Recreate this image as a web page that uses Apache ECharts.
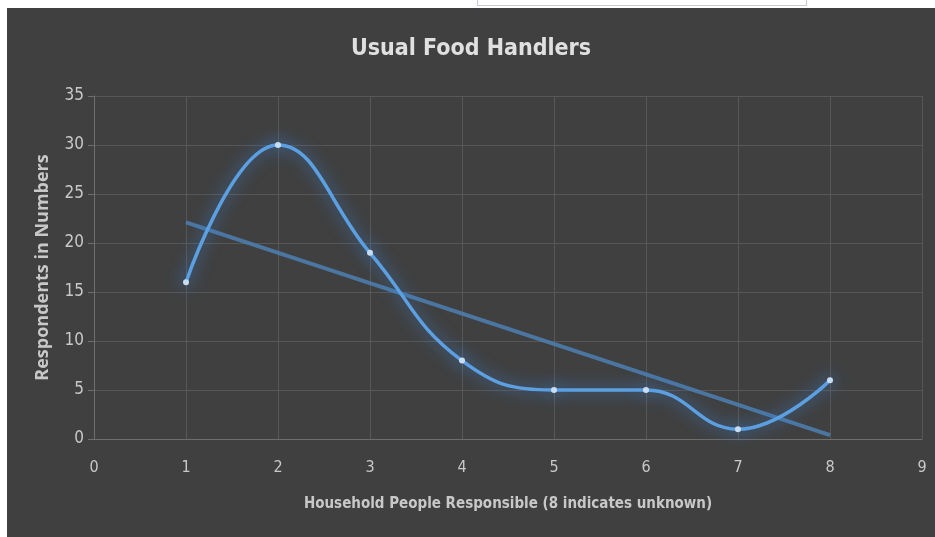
<!DOCTYPE html>
<html>
<head>
<meta charset="utf-8">
<script src="https://cdn.jsdelivr.net/npm/echarts@6/dist/echarts.min.js"></script>
<style>
  html, body { margin: 0; padding: 0; background: #ffffff; width: 935px; height: 537px; overflow: hidden; }
  #frame { position: absolute; left: 477px; top: -2px; width: 330px; height: 8px; border: 1px solid #c8c8d0; border-top: none; box-sizing: border-box; }
  #chart { position: absolute; left: 7px; top: 8px; width: 928px; height: 529px; }
</style>
</head>
<body>
<div id="frame"></div>
<div id="chart"></div>
<script>
// Household people responsible (8 = unknown) vs respondents
const people = [1, 2, 3, 4, 5, 6, 7, 8];
const respondents = [16, 30, 19, 8, 5, 5, 1, 6];
// linear trendline end points
const trendX = [1, 8];
const trendY = [22.1, 0.4];

const labelFont = "'DejaVu Sans Condensed', 'Liberation Sans Narrow', sans-serif";
const textColor = "#c8c8c8";

const chart = echarts.init(document.getElementById("chart"));
chart.setOption({
  backgroundColor: "#404040",
  animation: false,
  title: {
    text: "Usual Food Handlers",
    left: "center",
    top: 25,
    textStyle: { color: "#e0e0e0", fontFamily: labelFont, fontSize: 23, fontWeight: "bold" }
  },
  grid: { left: 87, right: 13, top: 88, bottom: 98 },
  xAxis: {
    type: "value",
    min: 0,
    max: 9,
    interval: 1,
    name: "Household People Responsible (8 indicates unknown)",
    nameLocation: "middle",
    nameGap: 58,
    nameTextStyle: { color: textColor, fontFamily: labelFont, fontSize: 15, fontWeight: "bold" },
    axisLine: { lineStyle: { color: "#6e6e6e" } },
    axisTick: { show: false },
    axisLabel: { color: textColor, fontFamily: labelFont, fontSize: 16, margin: 21 },
    splitLine: { lineStyle: { color: "#575757" } }
  },
  yAxis: {
    type: "value",
    min: 0,
    max: 35,
    interval: 5,
    name: "Respondents in Numbers",
    nameLocation: "middle",
    nameGap: 42,
    nameTextStyle: { color: textColor, fontFamily: "'Open Sans', sans-serif", fontSize: 18, fontWeight: "bold" },
    axisLine: { show: true, lineStyle: { color: "#6e6e6e" } },
    axisTick: { show: true, length: 6, lineStyle: { color: "#6e6e6e" } },
    axisLabel: { color: textColor, fontFamily: labelFont, fontSize: 17, margin: 10 },
    splitLine: { lineStyle: { color: "#575757" } }
  },
  series: [
    {
      name: "Trend",
      type: "line",
      data: trendX.map((x, i) => [x, trendY[i]]),
      showSymbol: false,
      lineStyle: { color: "#4d80b3", width: 4, opacity: 0.85 },
      z: 2
    },
    {
      name: "Respondents",
      type: "line",
      data: people.map((x, i) => [x, respondents[i]]),
      smooth: 0.45,
      symbol: "circle",
      symbolSize: 6,
      itemStyle: { color: "#c9ddf2", shadowBlur: 18, shadowColor: "rgba(70,150,240,1)" },
      lineStyle: { color: "#5ca0e2", width: 3.5, shadowBlur: 16, shadowColor: "rgba(60,140,235,0.85)" },
      z: 3
    }
  ]
});
</script>
</body>
</html>
